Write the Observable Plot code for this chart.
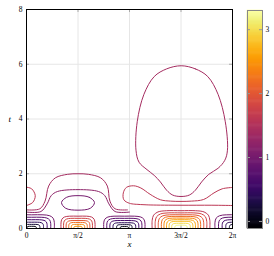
<!DOCTYPE html>
<html><head><meta charset="utf-8">
<script src="https://cdn.jsdelivr.net/npm/d3@7"></script>
<script src="https://cdn.jsdelivr.net/npm/@observablehq/plot@0.6"></script>
<style>
html,body{margin:0;padding:0;background:#fff;color:#000;}
#wrap{position:relative;width:274px;height:256px;overflow:hidden;}
#wrap svg{position:absolute;top:0;}
</style>
</head><body><div id="wrap"></div>
<script>
// ---- axes / scale data ----
const xTicks = [0, 0.5, 1, 1.5, 2];            // in units of pi
const xTickLabels = ["0", "π/2", "π", "3π/2", "2π"];
const tTicks = [0, 2, 4, 6, 8];
const cbTicks = [0, 1, 2, 3];
const colorDomain = [-0.11, 3.30];

// ---- contour lines: [x/pi, t] ----
const bigLoop = {level: 1.4, pts: [[1.502,5.945],[1.64,5.83],[1.76,5.55],[1.86,4.9],[1.93,3.9],[1.951,2.86],[1.925,2.49],[1.86,2.2],[1.77,1.98],[1.70,1.70],[1.64,1.40],[1.58,1.22],[1.50,1.17],[1.42,1.22],[1.36,1.40],[1.30,1.70],[1.24,1.94],[1.17,2.15],[1.093,2.42],[1.063,2.86],[1.075,3.9],[1.14,4.9],[1.24,5.55],[1.36,5.83]]};
const purpleLoop = {level: 1.0, pts: [[0.5,1.2],[0.61,1.14],[0.66,0.95],[0.62,0.74],[0.5,0.67],[0.38,0.74],[0.34,0.95],[0.39,1.14]]};

const openLines = [
  {level: 1.6, pts: [[1.083,0.88],[1.0,0.92],[0.945,1.05],[0.94,1.3],[0.97,1.5],[1.04,1.56],[1.11,1.48],[1.2,1.25],[1.3,1.05],[1.4,1.0],[1.5,0.99],[1.6,1.0],[1.72,1.06],[1.82,1.3],[1.9,1.45],[2.0,1.5]]},
  {level: 1.6, pts: [[1.083,0.88],[1.2,0.86],[1.5,0.85],[1.8,0.85],[2.0,0.84]]},
  {level: 1.6, pts: [[0,1.51],[0.05,1.45],[0.085,1.2],[0.06,0.95],[0,0.84]]},
  {level: 1.4, pts: [[0,0.68],[0.13,0.72],[0.18,1.0],[0.215,1.55],[0.28,1.85],[0.4,1.98],[0.5,2.0],[0.6,1.98],[0.72,1.85],[0.785,1.55],[0.81,1.0],[0.86,0.72],[0.98,0.68]]},
  {level: 1.2, pts: [[0,0.6],[0.14,0.62],[0.2,0.9],[0.24,1.2],[0.3,1.35],[0.5,1.42],[0.7,1.35],[0.76,1.2],[0.8,0.9],[0.86,0.62],[1.0,0.6]]}
];

// arc families: [center x/pi, half-width, height, level]
const arcsHalfPi = [[0.5,0.165,0.45,1.6],[0.5,0.14,0.37,1.8],[0.5,0.115,0.29,2.0],[0.5,0.09,0.22,2.2],[0.5,0.065,0.15,2.4],[0.5,0.04,0.08,2.5]];
const arcsThreeHalfPi = [[1.5,0.28,0.65,1.6],[1.5,0.25,0.57,1.8],[1.5,0.22,0.50,2.0],[1.5,0.19,0.44,2.2],[1.5,0.165,0.38,2.4],[1.5,0.14,0.32,2.6],[1.5,0.115,0.26,2.8],[1.5,0.09,0.19,3.0],[1.5,0.06,0.12,3.2]];
const arcsPi = [[0.95,0.2,0.45,1.0],[0.95,0.17,0.37,0.8],[0.95,0.14,0.29,0.6],[0.95,0.11,0.21,0.4],[0.95,0.075,0.14,0.2],[0.95,0.04,0.07,0.0]];
const arcsZero = [[0.05,0.22,0.5,1.0],[0.05,0.185,0.41,0.8],[0.05,0.15,0.32,0.6],[0.05,0.115,0.23,0.4],[0.05,0.08,0.15,0.2],[0.05,0.045,0.08,0.0],
                  [2.05,0.22,0.5,1.0],[2.05,0.185,0.41,0.8],[2.05,0.15,0.32,0.6],[2.05,0.115,0.23,0.4],[2.05,0.08,0.15,0.2],[2.05,0.045,0.08,0.0]];

// rounded-arch template (shape only)
const archShape = [[-1,0],[-1,0.45],[-0.95,0.75],[-0.8,0.93],[-0.5,1],[0,1],[0.5,1],[0.8,0.93],[0.95,0.75],[1,0.45],[1,0]];

// ---- build tables ----
const openRows = [];
let id = 0;
for (const l of openLines) { for (const [x,t] of l.pts) openRows.push({id, x, t, level: l.level}); id++; }
for (const [c,w,h,lev] of [...arcsHalfPi, ...arcsThreeHalfPi, ...arcsPi, ...arcsZero]) {
  for (const [u,v] of archShape) openRows.push({id, x: c + u*w, t: v*h, level: lev});
  id++;
}
const closedRows = [];
for (const l of [bigLoop, purpleLoop]) { for (const [x,t] of l.pts) closedRows.push({id, x, t, level: l.level}); id++; }

const color = {type: "linear", scheme: "inferno", domain: colorDomain};
const serif = "'Liberation Serif', 'DejaVu Serif', serif";

const main = Plot.plot({
  width: 274, height: 256,
  marginLeft: 26, marginRight: 42, marginTop: 9, marginBottom: 28,
  style: {fontFamily: serif, fontSize: "7.5px", background: "transparent", color: "#000"},
  x: {domain: [0, 2], ticks: xTicks, tickFormat: d => xTickLabels[xTicks.indexOf(d)], tickSize: 0, tickPadding: 4, label: null},
  y: {domain: [0, 8], ticks: tTicks, tickFormat: d => String(d), tickSize: 0, tickPadding: 4, label: null},
  color,
  marks: [
    Plot.gridX(xTicks, {stroke: "#e6e6e6", strokeOpacity: 1}),
    Plot.gridY(tTicks, {stroke: "#e6e6e6", strokeOpacity: 1}),
    Plot.tickX(xTicks, {x: d => d, stroke: "#aaa", insetBottom: 216}),
    Plot.tickX(xTicks, {x: d => d, stroke: "#aaa", insetTop: 216}),
    Plot.tickY(tTicks, {y: d => d, stroke: "#aaa", insetRight: 203}),
    Plot.tickY(tTicks, {y: d => d, stroke: "#aaa", insetLeft: 203}),
    Plot.line(openRows, {x: "x", y: "t", z: "id", stroke: "level", strokeWidth: 1, curve: "catmull-rom", clip: true}),
    Plot.line(closedRows, {x: "x", y: "t", z: "id", stroke: "level", strokeWidth: 1, curve: "catmull-rom-closed", clip: true}),
    Plot.frame({stroke: "#000", strokeWidth: 1}),
    Plot.text(["x"], {frameAnchor: "bottom", dy: 18, fontStyle: "italic", fontSize: 9, fill: "#000"}),
    Plot.text(["t"], {frameAnchor: "left", dx: -18, fontStyle: "italic", fontSize: 9, fill: "#000"})
  ]
});

const N = 200;
const ramp = d3.range(N).map(i => {
  const a = colorDomain[0] + (colorDomain[1]-colorDomain[0]) * i / N;
  const b = colorDomain[0] + (colorDomain[1]-colorDomain[0]) * (i+1) / N;
  return {a, b, m: (a+b)/2};
});
const bar = Plot.plot({
  width: 34, height: 256,
  marginLeft: 7, marginRight: 12, marginTop: 10, marginBottom: 28,
  style: {fontFamily: serif, fontSize: "7.5px", background: "transparent", color: "#000"},
  x: {domain: [0, 1], axis: null},
  y: {domain: colorDomain, ticks: cbTicks, tickFormat: d => String(d), axis: "right", tickSize: 0, tickPadding: 3, label: null},
  color,
  marks: [
    Plot.rect(ramp, {x1: 0, x2: 1, y1: "a", y2: "b", fill: "m", inset: -0.3}),
    Plot.ruleY(cbTicks, {stroke: "#999", strokeDasharray: "3,9"}),
    Plot.frame({stroke: "#888", strokeWidth: 1})
  ]
});
main.style.left = "0px";
bar.style.left = "240px";
document.getElementById("wrap").append(main, bar);
</script>
</body></html>
